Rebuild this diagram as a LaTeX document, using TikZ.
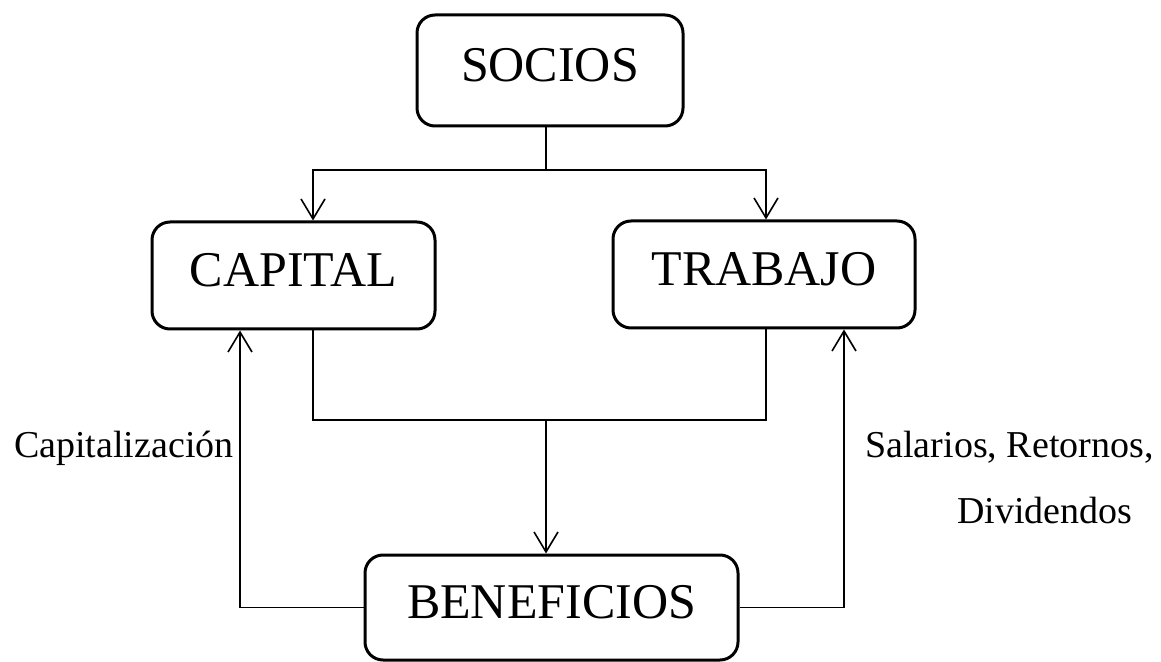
\documentclass[tikz,border=0pt]{standalone}
\usepackage{fontspec}
\setmainfont{Liberation Serif}
\usetikzlibrary{arrows.meta}
\usetikzlibrary{calc}

\tikzset{
caja/.style={draw, line width=1.5pt, rounded corners=9pt, inner sep=0pt, font=\fontsize{25}{30}\selectfont, text depth=6pt},
enlace/.style={line width=0.8pt},
flecha/.style={enlace, -{Straight Barb[length=10pt, width=12pt, line width=0.8pt]}},
rotulo/.style={inner sep=0pt, font=\fontsize{19}{23}\selectfont}
}

\begin{document}
\begin{tikzpicture}[x=0.5pt, y=-0.5pt]
\useasboundingbox (0,0) rectangle (1161,662);
\node[caja, minimum width=133pt, minimum height=55.5pt] (socios) at (550,70.5) {SOCIOS};
\node[caja, minimum width=141.5pt, minimum height=53.5pt] (capital) at (293.5,275.5) {CAPITAL};
\node[caja, minimum width=151pt, minimum height=53.5pt] (trabajo) at (764,274.5) {TRABAJO};
\node[caja, minimum width=186.5pt, minimum height=52.5pt] (beneficios) at (551.5,607.5) {BENEFICIOS};
\coordinate (a1) at (546,170);
\coordinate (a2) at (546,420);
\coordinate (c1) at (313,170);
\coordinate (t1) at (766,170);
\coordinate (l1) at (240,608);
\coordinate (r1) at (844,608);
\draw[enlace] (a1 |- socios.south) -- (a1);
\draw[flecha] (a1) -| (c1 |- capital.north);
\draw[flecha] (a1) -| (t1 |- trabajo.north);
\draw[enlace] (c1 |- capital.south) |- (a2);
\draw[enlace] (t1 |- trabajo.south) |- (a2);
\draw[flecha] (a2) -- (a2 |- beneficios.north);
\draw[flecha] (beneficios.west) -| (l1 |- capital.south);
\draw[flecha] (beneficios.east) -| (r1 |- trabajo.south);
\node[rotulo, anchor=base east] (capit) at (234,457) {Capitalización};
\node[rotulo, anchor=base west] (salar) at (865,457) {Salarios, Retornos,};
\node[rotulo, anchor=base west] (divid) at (957,523) {Dividendos};
\end{tikzpicture}
\end{document}
